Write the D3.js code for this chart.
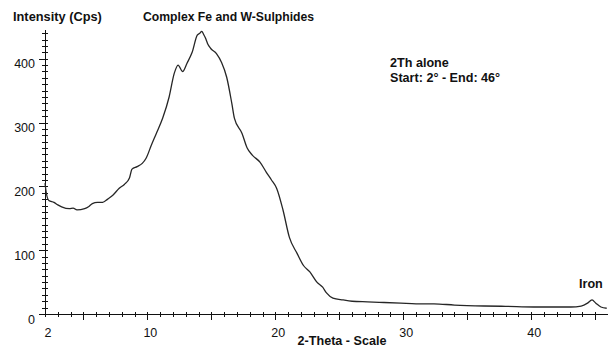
<!DOCTYPE html>
<html>
<head>
<meta charset="utf-8">
<script src="https://cdn.jsdelivr.net/npm/d3@7"></script>
<style>
  body { margin: 0; background: #fff; }
  svg text { font-family: "Liberation Sans", Arial, sans-serif; fill: #111; }
</style>
</head>
<body>
<svg id="chart" width="608" height="351"></svg>
<script>
// 2-theta (deg) and intensity (cps)
const twoTheta = [2.0, 2.1, 2.3, 2.7, 3.0, 3.3, 3.9, 4.2, 4.5, 5.1, 5.4, 5.7, 6.1, 6.5, 6.9, 7.3, 7.8, 8.2, 8.6, 8.8, 9.2, 9.6, 9.9,
  10.3, 10.7, 11.2, 11.7, 12.1, 12.4, 12.75, 13.1, 13.5, 13.9, 14.1, 14.25, 14.4, 14.55, 14.7, 14.95, 15.4, 15.8, 16.2, 16.6,
  16.8, 17.4, 17.8, 18.2, 18.8, 19.3, 19.7, 20.1, 20.6, 21.1, 21.7, 22.2, 22.7, 23.25, 23.7, 24.0, 24.5, 25.3, 26.0, 27.2,
  28.5, 29.8, 31.0, 32.4, 34.0, 36.3, 38.0, 40.2, 42.0, 43.1, 43.9, 44.4, 44.75, 45.05, 45.45, 45.9];
const intensity = [205, 190, 178, 175, 171, 168, 165, 166, 163, 165, 168, 173, 175, 175, 180, 186, 197, 203, 213, 227, 231, 236, 244,
  264, 283, 307, 340, 377, 390, 380, 393, 410, 437, 440, 443, 438, 432, 424, 416, 408, 394, 371, 330,
  307, 283, 260, 249, 238, 222, 210, 197, 163, 120, 95, 76, 66, 50, 42, 33, 25, 22, 20, 19,
  18, 17, 16, 16, 14, 12.5, 12, 11, 11, 11, 12.5, 17, 22, 17, 11, 9];

const yTicks = [0, 100, 200, 300, 400];
const xTickLabels = [2, 10, 20, 30, 40];

const svg = d3.select("#chart");
const x = d3.scaleLinear().domain([2, 46]).range([45, 608]);
const y = d3.scaleLinear().domain([0, 445]).range([314, 30]);

// axes drawn by hand to get the minor tick look
const axisG = svg.append("g").attr("stroke", "#111").attr("stroke-width", 1);
axisG.append("line").attr("x1", 45.5).attr("x2", 45.5).attr("y1", 30).attr("y2", 314);
axisG.append("line").attr("x1", 45).attr("x2", 608).attr("y1", 314.5).attr("y2", 314.5);

axisG.selectAll("line.ym").data(d3.range(0, 441, 10)).enter().append("line")
    .attr("x1", d => d % 100 === 0 ? 39 : 42)
    .attr("x2", 48)
    .attr("y1", d => Math.round(y(d)) + 0.5)
    .attr("y2", d => Math.round(y(d)) + 0.5);

axisG.selectAll("line.xm").data(d3.range(2, 47, 1)).enter().append("line")
    .attr("x1", d => Math.round(x(d)) + 0.5)
    .attr("x2", d => Math.round(x(d)) + 0.5)
    .attr("y1", 312)
    .attr("y2", d => d % 5 === 0 ? 320 : 317);

svg.selectAll("text.yl").data(yTicks).enter().append("text")
    .attr("x", 35).attr("y", d => y(d) + 9.5)
    .attr("text-anchor", "end").attr("font-size", 12.5)
    .text(d => d);

svg.selectAll("text.xl").data(xTickLabels).enter().append("text")
    .attr("x", d => x(d) + 3).attr("y", 337)
    .attr("text-anchor", "middle").attr("font-size", 12.5)
    .text(d => d);

// the scan
const line = d3.line().x((d, i) => x(twoTheta[i])).y(d => y(d)).curve(d3.curveMonotoneX);
svg.append("path").datum(intensity)
    .attr("d", line)
    .attr("fill", "none").attr("stroke", "#262626").attr("stroke-width", 1.3);

const bold = (txt, tx, ty, size, anchor) => svg.append("text")
    .attr("x", tx).attr("y", ty).attr("text-anchor", anchor || "start")
    .attr("font-size", size).attr("font-weight", "bold").text(txt);

bold("Intensity (Cps)", 13, 21, 12.8);
bold("Complex Fe and W-Sulphides", 143, 21, 12.2);
bold("2Th alone", 390, 67, 12.6);
bold("Start: 2\u00b0 - End: 46\u00b0", 390, 82, 12.6);
bold("Iron", 579, 288, 12.6);
bold("2-Theta - Scale", 342, 345, 12.6, "middle");
</script>
</body>
</html>
